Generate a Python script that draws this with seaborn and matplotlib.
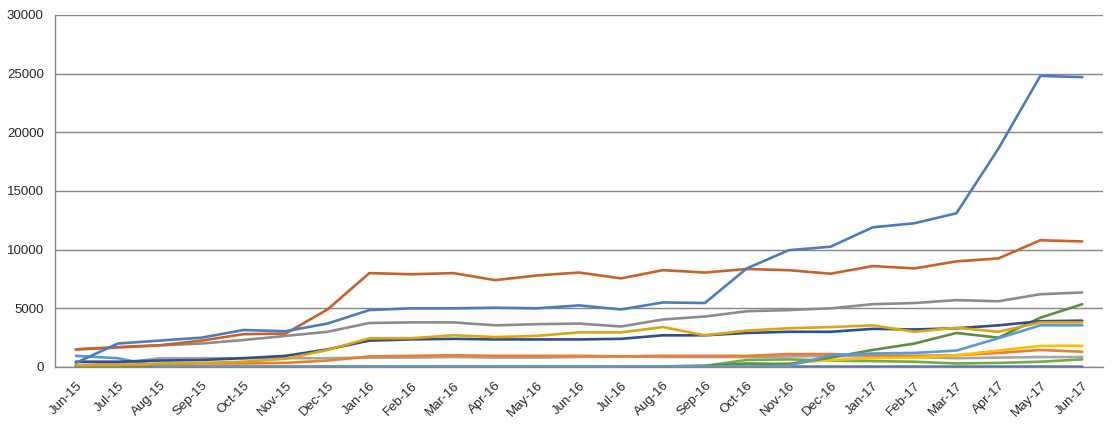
import numpy as np
import pandas as pd
import matplotlib
matplotlib.use('Agg')
import matplotlib.pyplot as plt
import seaborn as sns

# ---- data ----
months = ['Jun-15', 'Jul-15', 'Aug-15', 'Sep-15', 'Oct-15', 'Nov-15', 'Dec-15',
          'Jan-16', 'Feb-16', 'Mar-16', 'Apr-16', 'May-16', 'Jun-16', 'Jul-16',
          'Aug-16', 'Sep-16', 'Oct-16', 'Nov-16', 'Dec-16', 'Jan-17', 'Feb-17',
          'Mar-17', 'Apr-17', 'May-17', 'Jun-17']

s_blue = [350, 2000, 2250, 2500, 3150, 3050, 3700, 4850, 5000, 5000, 5050, 5000, 5250,
          4900, 5500, 5450, 8400, 9950, 10250, 11900, 12250, 13100, 18600, 24800, 24700]
s_orange = [1500, 1700, 1850, 2250, 2800, 2850, 4900, 8000, 7900, 8000, 7400, 7800, 8050,
            7550, 8250, 8050, 8350, 8250, 7950, 8600, 8400, 9000, 9250, 10800, 10700]
s_gray = [1500, 1650, 1850, 2000, 2300, 2650, 3000, 3750, 3800, 3800, 3550, 3650, 3700,
          3450, 4050, 4300, 4750, 4850, 5000, 5350, 5450, 5700, 5600, 6200, 6350]
s_gold = [150, 150, 300, 350, 450, 700, 1450, 2450, 2450, 2700, 2550, 2650, 2950,
          2950, 3400, 2700, 3100, 3300, 3400, 3550, 3000, 3350, 3000, 3800, 3800]
s_navy = [450, 450, 550, 600, 750, 950, 1500, 2250, 2350, 2400, 2350, 2350, 2350,
          2400, 2700, 2700, 2900, 3000, 3000, 3250, 3200, 3300, 3550, 3900, 3950]
s_ltblue = [950, 750, 50, 50, 50, 50, 50, 50, 50, 50, 50, 50, 50,
            50, 50, 50, 50, 100, 1000, 1150, 1200, 1400, 2450, 3550, 3550]
s_green = [0, 0, 0, 0, 0, 0, 0, 0, 0, 0, 0, 0, 0,
           0, 50, 100, 300, 250, 800, 1450, 2000, 2900, 2500, 4200, 5350]
s_yellow = [50, 50, 50, 50, 50, 50, 50, 50, 50, 50, 50, 50, 50,
            50, 50, 50, 100, 300, 600, 750, 800, 1000, 1400, 1800, 1800]
s_ltorange = [100, 150, 250, 300, 300, 350, 550, 900, 950, 1000, 950, 950, 950,
              900, 950, 950, 950, 1100, 1100, 1000, 950, 1000, 1200, 1450, 1300]
s_ltgray = [150, 300, 750, 750, 750, 750, 750, 800, 800, 850, 800, 800, 850,
            900, 850, 850, 850, 900, 950, 900, 850, 750, 800, 850, 850]
s_ltgreen = [0, 0, 0, 0, 0, 0, 0, 0, 0, 0, 0, 0, 0,
             0, 50, 100, 600, 650, 550, 500, 450, 300, 350, 450, 650]
s_bottom = [20, 20, 20, 20, 20, 20, 20, 20, 20, 20, 20, 20, 20,
            20, 20, 20, 20, 30, 30, 30, 30, 30, 30, 30, 30]

series = {
    'S12': s_bottom, 'S11': s_ltgreen, 'S10': s_ltgray, 'S9': s_ltorange,
    'S8': s_yellow, 'S7': s_green, 'S6': s_ltblue, 'S5': s_navy,
    'S4': s_gold, 'S3': s_gray, 'S2': s_orange, 'S1': s_blue,
}
colors = {
    'S1': '#4A7EBB', 'S2': '#C8622A', 'S3': '#8C8C8C', 'S4': '#DCA513',
    'S5': '#2E4E8F', 'S6': '#5B9BD5', 'S7': '#5E8E3E', 'S8': '#FFC000',
    'S9': '#ED7D31', 'S10': '#A5A5A5', 'S11': '#70AD47', 'S12': '#4472C4',
}

df = pd.DataFrame(series)
df['pos'] = np.arange(len(months))
long_df = df.melt(id_vars='pos', var_name='series', value_name='value')

# ---- plot ----
sns.set_style('white')
plt.rcParams['font.family'] = ['Liberation Sans', 'DejaVu Sans']

fig = plt.figure(figsize=(11.2, 4.26), dpi=100)
ax = fig.add_axes([0.049, 0.1385, 0.936, 0.8265])

sns.lineplot(data=long_df, x='pos', y='value', hue='series', hue_order=list(series.keys()),
             palette=colors, linewidth=1.9, legend=False, sort=False, ax=ax)

grid_c = '#868686'
ax.set_xlim(-0.5, len(months) - 0.5)
ax.set_ylim(0, 30000)
ax.set_yticks(range(0, 30001, 5000))
ax.yaxis.grid(True, color=grid_c, linewidth=1)
ax.set_axisbelow(True)

ax.set_xticks(range(len(months)))
ax.set_xticklabels(months, rotation=45, ha='right', rotation_mode='anchor')
ax.set_xticks(np.arange(-0.5, len(months), 1), minor=True)
ax.tick_params(axis='x', which='major', length=0, pad=9, labelsize=9.5)
ax.tick_params(axis='x', which='minor', length=5, color=grid_c, width=1)
ax.tick_params(axis='y', length=5, color=grid_c, width=1, pad=3, labelsize=9.5)

ax.set_xlabel('')
ax.set_ylabel('')
for side in ['top', 'right']:
    ax.spines[side].set_visible(False)
for side in ['left', 'bottom']:
    ax.spines[side].set_color(grid_c)
    ax.spines[side].set_linewidth(1)

fig.savefig('out.png', dpi=100)
